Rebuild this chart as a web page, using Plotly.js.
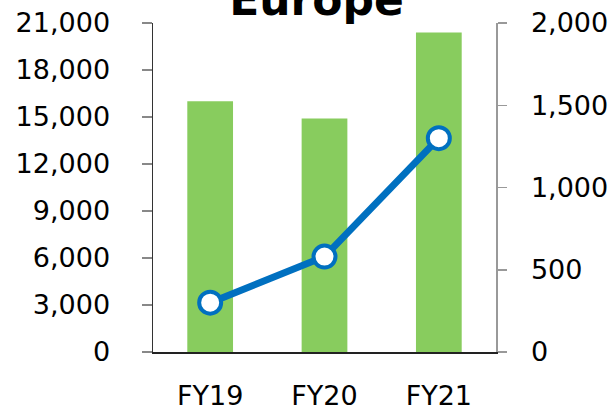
<!DOCTYPE html>
<html><head><meta charset="utf-8">
<script src="https://cdn.plot.ly/plotly-3.0.1.min.js"></script>
<style>html,body{margin:0;padding:0;background:#fff;}#chart{width:611px;height:409px;}</style>
</head><body><div id="chart"></div>
<script>
const categories = ["FY19", "FY20", "FY21"];
const barValues = [16000, 14900, 20400];
const lineValues = [300, 580, 1300];
const leftTicks = [0, 3000, 6000, 9000, 12000, 15000, 18000, 21000];
const rightTicks = [0, 500, 1000, 1500, 2000];

const font = "DejaVu Sans, Verdana, sans-serif";
const data = [
  {type: "bar", x: categories, y: barValues, marker: {color: "#88CC5E"}, width: 0.4, yaxis: "y", hoverinfo: "skip"},
  {type: "scatter", mode: "lines+markers", x: categories, y: lineValues, yaxis: "y2",
   line: {color: "#0070C0", width: 7},
   marker: {size: 22, color: "#FFFFFF", line: {color: "#0070C0", width: 4}}}
];
const layout = {
  width: 611, height: 409,
  margin: {l: 153, r: 115, t: 23, b: 57},
  showlegend: false,
  paper_bgcolor: "#fff", plot_bgcolor: "#fff",
  font: {family: font, size: 27, color: "#000"},
  title: {text: "<b>Europe</b>", font: {family: font, size: 44, color: "#000"},
          x: 0.518, xanchor: "center", y: 1 - 15/409, yanchor: "bottom", yref: "container"},
  xaxis: {showgrid: false, showline: true, linecolor: "#222", linewidth: 1.5,
          ticks: "", ticklabelstandoff: 19, tickfont: {size: 27}, fixedrange: true},
  yaxis: {range: [0, 21000], tickvals: leftTicks, tickformat: ",d", showgrid: false, zeroline: false,
          showline: true, linecolor: "#333", linewidth: 1.5, ticks: "outside", ticklen: 10,
          tickcolor: "#888", tickwidth: 1.5, ticklabelstandoff: 26},
  yaxis2: {range: [0, 2000], tickvals: rightTicks, tickformat: ",d", overlaying: "y", side: "right",
           showgrid: false, zeroline: false, showline: true, linecolor: "#999", linewidth: 1.5,
           ticks: "outside", ticklen: 9, tickcolor: "#999", tickwidth: 1.5, ticklabelstandoff: 19}
};
Plotly.newPlot("chart", data, layout, {displayModeBar: false, staticPlot: true});
</script></body></html>
